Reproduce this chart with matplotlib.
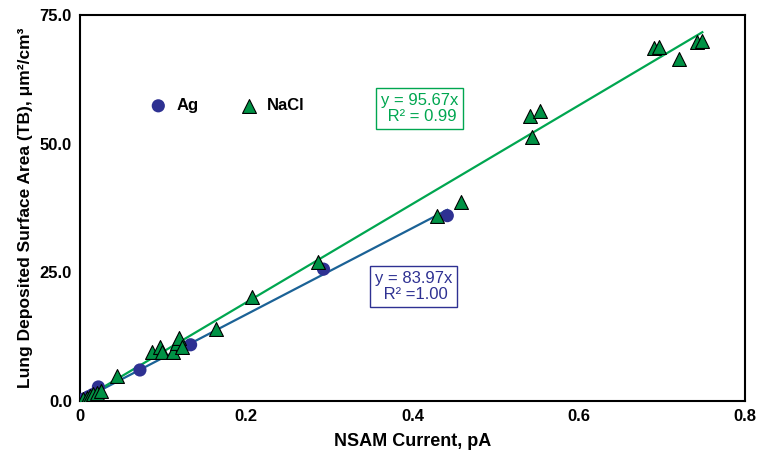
import numpy as np
import matplotlib
matplotlib.use('Agg')
import matplotlib.pyplot as plt

plt.rcParams.update({
    'font.family': ['Liberation Sans', 'DejaVu Sans'],
    'font.size': 11,
})

# data
ag_x = [0.005, 0.010, 0.015, 0.022, 0.072, 0.133, 0.293, 0.442]
ag_y = [0.4, 0.8, 1.2, 2.7, 6.0, 10.9, 25.6, 36.0]

nacl_x = [0.004, 0.008, 0.012, 0.015, 0.020, 0.025, 0.044, 0.087, 0.096,
          0.099, 0.112, 0.117, 0.119, 0.123, 0.163, 0.207, 0.286, 0.430,
          0.458, 0.542, 0.544, 0.554, 0.691, 0.697, 0.721, 0.742, 0.749]
nacl_y = [0.3, 0.6, 0.9, 1.3, 1.6, 2.0, 4.8, 9.5, 10.5,
          9.5, 9.5, 11.2, 12.2, 10.5, 14.0, 20.2, 26.9, 35.9,
          38.6, 55.4, 51.2, 56.4, 68.6, 68.8, 66.5, 69.8, 70.0]

ag_slope, ag_r2, ag_xmax = 83.97, 1.00, 0.442
nacl_slope, nacl_r2, nacl_xmax = 95.67, 0.99, 0.749

C_AG = '#2e3192'
C_AG_LINE = '#1b6296'
C_NACL = '#009245'
C_NACL_LINE = '#00a650'

fig = plt.figure(figsize=(7.63, 4.55), dpi=100)
ax = fig.add_axes([0.105, 0.119, 0.871, 0.848])

xa = np.array([0, ag_xmax])
xn = np.array([0, nacl_xmax])
ax.plot(xa, ag_slope * xa, color=C_AG_LINE, lw=1.6, zorder=2)
ax.plot(xn, nacl_slope * xn, color=C_NACL_LINE, lw=1.6, zorder=2)

ax.scatter(ag_x, ag_y, s=90, marker='o', color=C_AG, edgecolor='none',
           label='Ag', zorder=3)
ax.scatter(nacl_x, nacl_y, s=100, marker='^', color=C_NACL, edgecolor='black',
           linewidth=0.8, label='NaCl', zorder=4)

ax.set_xlim(0, 0.8)
ax.set_ylim(0, 75)
ax.set_xticks([0, 0.2, 0.4, 0.6, 0.8])
ax.set_xticklabels(['0', '0.2', '0.4', '0.6', '0.8'])
ax.set_yticks([0, 25, 50, 75])
ax.set_yticklabels(['0.0', '25.0', '50.0', '75.0'])
ax.tick_params(length=0, pad=6, labelsize=12)
for lab in ax.get_xticklabels() + ax.get_yticklabels():
    lab.set_fontweight('bold')
for sp in ax.spines.values():
    sp.set_linewidth(1.5)

ax.set_xlabel('NSAM Current, pA', fontweight='bold', fontsize=13, labelpad=6)
ax.set_ylabel('Lung Deposited Surface Area (TB), μm²/cm³', fontweight='bold',
              fontsize=12.5, labelpad=5)

leg = ax.legend(loc='center left', bbox_to_anchor=(0.07, 0.765), ncol=2,
                frameon=False, handletextpad=0.1, columnspacing=2.0,
                prop={'weight': 'bold', 'size': 12})

ax.text(0.511, 0.757, f'y = {nacl_slope:.2f}x\n R² = {nacl_r2:.2f}',
        transform=ax.transAxes, ha='center', va='center', color=C_NACL_LINE,
        fontsize=12, linespacing=1.05,
        bbox=dict(boxstyle='square,pad=0.3', fc='white', ec=C_NACL_LINE, lw=1))
ax.text(0.502, 0.297, f'y = {ag_slope:.2f}x\n R² ={ag_r2:.2f}',
        transform=ax.transAxes, ha='center', va='center', color=C_AG,
        fontsize=12, linespacing=1.05,
        bbox=dict(boxstyle='square,pad=0.3', fc='white', ec=C_AG, lw=1))

fig.savefig('out.png', dpi=100)
